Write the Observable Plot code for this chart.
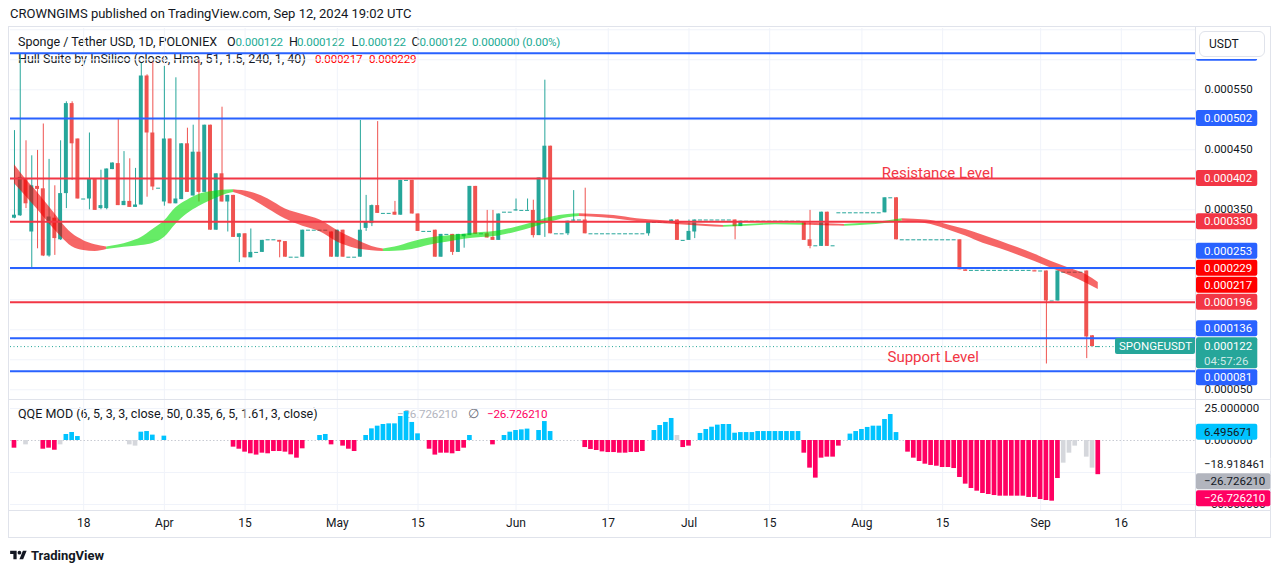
<!DOCTYPE html>
<html>
<head>
<meta charset="utf-8">
<script src="https://cdn.jsdelivr.net/npm/d3@7"></script>
<script src="https://cdn.jsdelivr.net/npm/@observablehq/plot@0.6"></script>
<style>
  html,body{margin:0;padding:0;background:#fff;}
  body{width:1281px;height:573px;position:relative;overflow:hidden;font-family:Roboto,"Noto Sans",sans-serif;color:#131722;}
  .abs{position:absolute;}
  .leg{position:absolute;white-space:nowrap;font-size:12.5px;line-height:16px;color:#131722;}
  .num{font-size:11.6px;letter-spacing:-0.15px;}
  .t{color:#22ab94;}
  .r{color:#ff0000;}
  .sep{position:absolute;background:#e0e3eb;}
</style>
</head>
<body>
<div class="abs" style="left:10px;top:6px;font-size:13px;line-height:16px;">CROWNGIMS published on TradingView.com, Sep 12, 2024 19:02 UTC</div>
<div class="abs" style="left:8px;top:26px;width:1261px;height:510px;border:1px solid #e0e3eb;"></div>
<div class="leg" style="left:18px;top:34px;">Sponge / Tether USD, 1D, POLONIEX</div>
<div class="leg" style="left:227px;top:34px;">O</div><div class="leg num t" style="left:235.5px;top:34px;">0.000122</div>
<div class="leg" style="left:289px;top:34px;">H</div><div class="leg num t" style="left:297px;top:34px;">0.000122</div>
<div class="leg" style="left:351.5px;top:34px;">L</div><div class="leg num t" style="left:358.5px;top:34px;">0.000122</div>
<div class="leg" style="left:411.5px;top:34px;">C</div><div class="leg num t" style="left:419.5px;top:34px;">0.000122</div>
<div class="leg num t" style="left:472px;top:34px;">0.000000 (0.00%)</div>
<div class="leg" style="left:18px;top:51px;">Hull Suite by InSilico (close, Hma, 51, 1.5, 240, 1, 40)</div>
<div class="leg num r" style="left:315px;top:51px;">0.000217</div>
<div class="leg num r" style="left:369px;top:51px;">0.000229</div>
<div class="leg" style="left:18px;top:406px;">QQE MOD (6, 5, 3, 3, close, 50, 0.35, 6, 5, 1.61, 3, close)</div>
<div class="leg num" style="left:397px;top:406px;color:#b2b5be;">−26.726210</div>
<div class="leg" style="left:468px;top:406px;color:#6a6d78;">∅</div>
<div class="leg num" style="left:487px;top:406px;color:#ff0062;">−26.726210</div>
<div id="price" class="abs" style="left:0;top:0;width:1281px;height:400px;"></div>
<div id="qqe" class="abs" style="left:0;top:400px;width:1281px;height:138px;"></div>
<div class="sep" style="left:1195px;top:26px;width:1px;height:512px;"></div>
<div class="sep" style="left:8px;top:399px;width:1263px;height:1px;"></div>
<div class="sep" style="left:8px;top:510px;width:1263px;height:1px;"></div>
<div class="abs" style="left:1196px;top:27px;width:74px;height:32px;background:#fff;"></div>
<div class="abs" style="left:1199px;top:31px;width:64px;height:24px;border:1px solid #e0e3eb;border-radius:6px;background:#fff;font-size:12px;line-height:24px;"><span style="margin-left:9px">USDT</span></div>
<div class="abs" style="left:10px;top:548px;height:14px;display:flex;align-items:center;font-size:13px;font-weight:700;color:#131722;">
  <svg width="17" height="13" viewBox="0 0 36 28"><path d="M14 22H7V11H0V4h14v18zM28 22h-8l7.5-18h8L28 22z" fill="#131722"/><circle cx="20" cy="8" r="4" fill="#131722"/></svg>
  <span style="margin-left:4px">TradingView</span>
</div>
<script>
// ================= DATA =================
const firstBarDay = "2024-03-06";
const axisEndDay = "2024-09-29";            // exclusive end of the time axis (future space)
const missingDays = ["2024-07-24", "2024-09-07"];
const timeTickDays = ["2024-03-18","2024-04-01","2024-04-15","2024-05-01","2024-05-15","2024-06-01","2024-06-17","2024-07-01","2024-07-15","2024-08-01","2024-08-15","2024-09-01","2024-09-16"];
const timeTickLabels = ["18","Apr","15","May","15","Jun","17","Jul","15","Aug","15","Sep","16"];

// daily candles [open, high, low, close] SPONGE/USDT
const ohlc = [
[336e-6,482e-6,335e-6,341e-6],[340e-6,610e-6,339e-6,404e-6],[402e-6,465e-6,352e-6,360e-6],[313e-6,440e-6,253e-6,390e-6],[389e-6,449e-6,285e-6,384e-6],
[385e-6,493e-6,272e-6,273e-6],[273e-6,434e-6,271e-6,338e-6],[336e-6,390e-6,274e-6,302e-6],[300e-6,465e-6,299e-6,377e-6],[377e-6,530e-6,352e-6,527e-6],
[527e-6,530e-6,399e-6,460e-6],[468e-6,468e-6,368e-6,368e-6],[368e-6,368e-6,368e-6,368e-6],[368e-6,478e-6,350e-6,402e-6],[402e-6,402e-6,349e-6,349e-6],
[352e-6,416e-6,350e-6,357e-6],[352e-6,418e-6,350e-6,418e-6],[417e-6,428e-6,417e-6,428e-6],[427e-6,502e-6,357e-6,357e-6],[357e-6,447e-6,357e-6,364e-6],
[364e-6,435e-6,354e-6,354e-6],[354e-6,419e-6,354e-6,358e-6],[358e-6,594e-6,358e-6,573e-6],[573e-6,575e-6,371e-6,478e-6],[478e-6,596e-6,382e-6,388e-6],
[386e-6,386e-6,386e-6,386e-6],[363e-6,589e-6,356e-6,468e-6],[468e-6,468e-6,360e-6,360e-6],[360e-6,570e-6,360e-6,368e-6],[367e-6,460e-6,367e-6,460e-6],
[460e-6,486e-6,379e-6,379e-6],[373e-6,491e-6,373e-6,446e-6],[446e-6,600e-6,363e-6,379e-6],[379e-6,491e-6,379e-6,491e-6],[491e-6,491e-6,316e-6,316e-6],
[316e-6,410e-6,316e-6,410e-6],[410e-6,521e-6,363e-6,363e-6],[363e-6,374e-6,313e-6,374e-6],[374e-6,374e-6,304e-6,304e-6],[304e-6,310e-6,262e-6,310e-6],
[310e-6,310e-6,270e-6,270e-6],[270e-6,318e-6,270e-6,279e-6],[279e-6,279e-6,279e-6,279e-6],[279e-6,299e-6,279e-6,299e-6],[300e-6,300e-6,300e-6,300e-6],
[300e-6,300e-6,300e-6,300e-6],[299e-6,299e-6,270e-6,296e-6],[297e-6,297e-6,271e-6,271e-6],[271e-6,271e-6,271e-6,271e-6],[271e-6,271e-6,271e-6,271e-6],
[271e-6,316e-6,271e-6,316e-6],[316e-6,316e-6,316e-6,316e-6],[316e-6,316e-6,316e-6,316e-6],[316e-6,316e-6,316e-6,316e-6],[316e-6,316e-6,316e-6,316e-6],
[313e-6,313e-6,271e-6,271e-6],[271e-6,316e-6,271e-6,316e-6],[316e-6,316e-6,271e-6,271e-6],[271e-6,271e-6,271e-6,271e-6],[271e-6,271e-6,271e-6,271e-6],
[271e-6,499e-6,271e-6,316e-6],[319e-6,374e-6,314e-6,329e-6],[327e-6,358e-6,322e-6,357e-6],[357e-6,497e-6,344e-6,344e-6],[344e-6,344e-6,344e-6,344e-6],
[344e-6,344e-6,344e-6,344e-6],[346e-6,364e-6,341e-6,341e-6],[341e-6,399e-6,341e-6,399e-6],[399e-6,399e-6,399e-6,399e-6],[399e-6,399e-6,343e-6,343e-6],
[343e-6,343e-6,314e-6,314e-6],[314e-6,314e-6,314e-6,314e-6],[314e-6,314e-6,314e-6,314e-6],[316e-6,316e-6,271e-6,271e-6],[271e-6,309e-6,271e-6,309e-6],
[309e-6,309e-6,309e-6,309e-6],[309e-6,309e-6,274e-6,279e-6],[279e-6,309e-6,279e-6,309e-6],[305e-6,309e-6,286e-6,309e-6],[307e-6,389e-6,307e-6,389e-6],
[389e-6,389e-6,309e-6,309e-6],[310e-6,310e-6,310e-6,310e-6],[310e-6,349e-6,303e-6,303e-6],[304e-6,349e-6,299e-6,299e-6],[299e-6,343e-6,299e-6,343e-6],
[346e-6,346e-6,346e-6,346e-6],[346e-6,346e-6,346e-6,346e-6],[348e-6,368e-6,348e-6,350e-6],[349e-6,349e-6,349e-6,349e-6],[349e-6,368e-6,349e-6,349e-6],
[349e-6,366e-6,303e-6,307e-6],[307e-6,403e-6,307e-6,403e-6],[402e-6,566e-6,304e-6,456e-6],[456e-6,456e-6,310e-6,310e-6],[310e-6,310e-6,310e-6,310e-6],
[310e-6,310e-6,310e-6,310e-6],[310e-6,331e-6,307e-6,331e-6],[331e-6,382e-6,331e-6,333e-6],[333e-6,333e-6,333e-6,333e-6],[333e-6,386e-6,310e-6,310e-6],
[310e-6,310e-6,310e-6,310e-6],[310e-6,310e-6,310e-6,310e-6],[310e-6,310e-6,310e-6,310e-6],[310e-6,310e-6,310e-6,310e-6],[310e-6,310e-6,310e-6,310e-6],
[310e-6,310e-6,310e-6,310e-6],[310e-6,310e-6,310e-6,310e-6],[310e-6,310e-6,310e-6,310e-6],[310e-6,310e-6,310e-6,310e-6],[310e-6,310e-6,310e-6,310e-6],
[310e-6,329e-6,306e-6,329e-6],[329e-6,329e-6,329e-6,329e-6],[329e-6,329e-6,329e-6,329e-6],[329e-6,329e-6,329e-6,329e-6],[328e-6,333e-6,328e-6,333e-6],
[333e-6,333e-6,299e-6,299e-6],[299e-6,299e-6,299e-6,299e-6],[299e-6,333e-6,299e-6,314e-6],[313e-6,333e-6,302e-6,333e-6],[333e-6,333e-6,333e-6,333e-6],
[333e-6,333e-6,333e-6,333e-6],[333e-6,333e-6,333e-6,333e-6],[333e-6,333e-6,333e-6,333e-6],[333e-6,333e-6,333e-6,333e-6],[333e-6,333e-6,333e-6,333e-6],
[333e-6,333e-6,300e-6,322e-6],[322e-6,331e-6,322e-6,331e-6],[331e-6,331e-6,331e-6,331e-6],[331e-6,331e-6,331e-6,331e-6],[331e-6,331e-6,331e-6,331e-6],
[331e-6,331e-6,331e-6,331e-6],[331e-6,331e-6,331e-6,331e-6],[331e-6,331e-6,331e-6,331e-6],[331e-6,331e-6,331e-6,331e-6],[331e-6,331e-6,331e-6,331e-6],
[331e-6,331e-6,331e-6,331e-6],[331e-6,331e-6,331e-6,331e-6],[329e-6,329e-6,299e-6,299e-6],[300e-6,349e-6,285e-6,289e-6],[290e-6,290e-6,290e-6,290e-6],
[289e-6,346e-6,289e-6,346e-6],[346e-6,346e-6,289e-6,289e-6],[290e-6,290e-6,290e-6,290e-6],[345e-6,345e-6,345e-6,345e-6],[345e-6,345e-6,345e-6,345e-6],
[345e-6,345e-6,345e-6,345e-6],[345e-6,345e-6,345e-6,345e-6],[345e-6,345e-6,345e-6,345e-6],[345e-6,345e-6,345e-6,345e-6],[345e-6,345e-6,345e-6,345e-6],
[345e-6,345e-6,345e-6,345e-6],[345e-6,370e-6,345e-6,370e-6],[370e-6,370e-6,370e-6,370e-6],[370e-6,370e-6,300e-6,300e-6],[300e-6,300e-6,300e-6,300e-6],
[300e-6,300e-6,300e-6,300e-6],[300e-6,300e-6,300e-6,300e-6],[300e-6,300e-6,300e-6,300e-6],[300e-6,300e-6,300e-6,300e-6],[300e-6,300e-6,300e-6,300e-6],
[300e-6,300e-6,300e-6,300e-6],[300e-6,300e-6,300e-6,300e-6],[300e-6,300e-6,300e-6,300e-6],[300e-6,300e-6,300e-6,300e-6],[300e-6,300e-6,250e-6,250e-6],
[250e-6,250e-6,249e-6,249e-6],[249e-6,249e-6,249e-6,249e-6],[249e-6,249e-6,249e-6,249e-6],[249e-6,249e-6,249e-6,249e-6],[249e-6,249e-6,249e-6,249e-6],
[249e-6,249e-6,249e-6,249e-6],[249e-6,249e-6,249e-6,249e-6],[249e-6,249e-6,249e-6,249e-6],[249e-6,249e-6,249e-6,249e-6],[249e-6,249e-6,249e-6,249e-6],
[249e-6,249e-6,249e-6,249e-6],[249e-6,249e-6,249e-6,249e-6],[249e-6,249e-6,248e-6,248e-6],[248e-6,248e-6,248e-6,248e-6],[248e-6,248e-6,93e-6,198e-6],
[198e-6,198e-6,198e-6,198e-6],[198e-6,248e-6,198e-6,248e-6],[246e-6,246e-6,246e-6,246e-6],[246e-6,246e-6,246e-6,246e-6],[246e-6,246e-6,246e-6,246e-6],
[246e-6,246e-6,246e-6,246e-6],[248e-6,248e-6,102e-6,138e-6],[140e-6,140e-6,122e-6,122e-6],[122e-6,122e-6,122e-6,122e-6]
];

// Hull Suite band, sampled at bar numbers
const hullBar = [0,2,4,6,8,10,12,14,16, 18,20,22,24,26,28,30,32,34,36,38, 41,44,47,50,53,56,59,62,64, 66,69,72,75,78,81,84,87,90,93,96,98, 100,104,108,112,116,120,123, 127,132,137, 139,142,144, 148,151,154, 156,159,162,165,168,171,174,177,180,183,186,188];
const hullUpper = [425e-6,400.5e-6,379e-6,355.3e-6,331.1e-6,310.3e-6,298.6e-6,291.8e-6,287.9e-6,
 291.3e-6,296.5e-6,304e-6,317.1e-6,331.3e-6,353.5e-6,366e-6,375.5e-6,380e-6,382.6e-6,383.5e-6,
 379.3e-6,368.1e-6,351.3e-6,342.1e-6,332.8e-6,315.6e-6,301.3e-6,289e-6,284.8e-6,
 287.8e-6,296.3e-6,303.1e-6,306.5e-6,309.3e-6,312e-6,314.8e-6,321e-6,329e-6,337.6e-6,342.1e-6,343.3e-6,
 342.5e-6,340.5e-6,335.1e-6,332e-6,328.6e-6,325.6e-6,323.8e-6,
 325.5e-6,327.6e-6,327.6e-6, 327.3e-6,326.3e-6,325.5e-6, 328e-6,331.1e-6,335e-6,
 334.3e-6,332e-6,324.8e-6,317.3e-6,307.5e-6,297.6e-6,287e-6,276e-6,263.3e-6,252.6e-6,241.5e-6,229e-6];
const hullLower = [393.3e-6,372.1e-6,350.3e-6,327.1e-6,306e-6,288.5e-6,282.1e-6,280.5e-6,283.8e-6,
 286.3e-6,288.3e-6,290.5e-6,294e-6,303.8e-6,326e-6,343.5e-6,355.6e-6,365e-6,373.6e-6,378.8e-6,
 368.3e-6,351.3e-6,334.6e-6,322.6e-6,313.5e-6,296.4e-6,286e-6,281.8e-6,280.5e-6,
 280.8e-6,284e-6,291.1e-6,295.8e-6,301.1e-6,303.8e-6,306.5e-6,312.6e-6,320.6e-6,329.3e-6,336.6e-6,338.8e-6,
 337.8e-6,335e-6,330.3e-6,327.1e-6,324.5e-6,322.3e-6,321e-6,
 322.7e-6,325e-6,324.1e-6, 323.8e-6,323e-6,322.7e-6, 324.6e-6,327.3e-6,331e-6,
 329.6e-6,325.3e-6,316.3e-6,306.3e-6,294.3e-6,285e-6,274.6e-6,263.8e-6,252.3e-6,240.3e-6,227.1e-6,217e-6];
// trend from each sample onward: u = rising (green), d = falling (red)
const hullTrend = ("dddddddd" + "uuuuuuuuuuu" + "ddddddddd" + "uuuuuuuuuuuu" + "ddddddd" + "uuu" + "ddd" + "uuu" + "ddddddddddddd").split("");

// horizontal drawings
const levelPrices = [611e-6, 502e-6, 402e-6, 330e-6, 253e-6, 196e-6, 136e-6, 81e-6];
const levelGroup  = ["range","range","pivot","pivot","range","pivot","range","range"];
const noteTexts  = ["Resistance Level", "Support Level"];
const noteDays   = ["2024-08-04", "2024-08-05"];
const notePrices = [411e-6, 105e-6];

// QQE MOD histogram (null = no visible bar), state: u above, d below, n neutral
const qqeHist = [
-6.0,null,-3.4,null,null,-6.8,-6.0,-7.6,-3.4,4.7,
6.25,3.1,null,null,null,null,null,null,null,null,
-3.4,-4.4,6.5,7.0,4.2,null,3.4,null,null,null,
null,null,null,null,null,null,null,null,-5.2,-6.8,
-9.1,-10.4,-11.4,-9.9,-10.4,-8.6,-8.6,-9.1,-11.2,-13.8,
-6.5,null,null,3.9,4.7,-3.4,null,-4.4,-6.8,-8.6,
null,3.9,9.1,11.2,12.5,13.0,13.0,18.75,22.6,14.1,
5.2,null,-6.8,-11.4,-9.9,-9.9,-10.4,-8.6,-6.0,3.9,
null,null,null,-3.4,null,3.9,6.5,7.8,8.3,8.9,
null,7.8,14.8,7.0,null,null,null,null,null,-5.5,
-7.0,-7.8,-8.9,-9.4,-9.4,-9.9,-9.9,-9.4,-9.4,-8.6,
null,7.8,11.7,14.1,17.2,3.9,-5.5,-4.4,null,5.5,
8.6,10.4,12.0,12.5,12.5,5.7,6.2,6.2,6.2,7.0,
7.0,7.0,7.0,7.0,7.0,7.0,7.0,-9.9,-21.6,-29.4,
-13.8,-13.0,-13.0,-4.4,null,5.0,7.0,8.6,10.2,11.2,
11.2,16.4,20.3,6.2,null,-9.1,-13.8,-16.4,-18.5,-19.5,
-20.1,-21.1,-21.1,-21.9,-28.9,-34.1,-37.5,-39.6,-41.4,-42.2,
-43.0,-43.5,-43.5,-43.5,-43.5,-43.5,-44.5,-44.5,-46.1,-46.9,
-47.4,-29.7,-17.7,-9.9,-4.4,null,-13.0,-21.6,-26.7
];
const qqeState = ("d.n..dddnu" + "uu........" + "nnuuu.u..." + "........dd" + "dddddddddd" +
  "d..uud.ddd" + ".uuuuuuuuu" + "u.dddddddu" + "...d.uuuuu" + ".uuu.....d" +
  "dddddddddd" + ".uuuundd.u" + "uuuuuuuuuu" + "uuuuuuuddd" + "dddd.uuuuu" +
  "uuuu.ddddd" + "dddddddddd" + "dddddddddd" + "ddnnn.nnd").split("");
const qqeReadouts = [6.495671, -18.918461, -26.726210, -26.726210];

const priceAxisTicks = [0.00005, 0.00035, 0.00045, 0.00055];
const priceGridTicks = [0.00005,0.0001,0.00015,0.0002,0.00025,0.0003,0.00035,0.0004,0.00045,0.0005,0.00055,0.0006,0.00065];
const qqeAxisTicks = [25, 0, -50];
const qqeGridTicks = [25, -25, -50];
const countdown = "04:57:26";
const symbolTag = "SPONGEUSDT";

// ================= BUILD =================
const fmtDay = d3.utcFormat("%Y-%m-%d");
const allDays = d3.utcDay.range(new Date(firstBarDay + "T00:00Z"), new Date(axisEndDay + "T00:00Z"))
  .map(fmtDay).filter(d => !missingDays.includes(d));
const barDays = allDays.slice(0, ohlc.length);
const candles = ohlc.map(([o, h, l, c], i) => ({date: barDays[i], o, h, l, c, up: c >= o}));
const flatCandles = candles.filter(d => Math.abs(d.o - d.c) < 1.5e-6);
const lastClose = candles[candles.length - 1].c;

const hullPts = [];
let seg = 0;
hullBar.forEach((b, k) => {
  const t = hullTrend[k];
  if (k > 0 && t !== hullTrend[k - 1]) {
    hullPts.push({date: barDays[b], hi: hullUpper[k], lo: hullLower[k], seg, trend: hullTrend[k - 1]});
    seg++;
  }
  hullPts.push({date: barDays[b], hi: hullUpper[k], lo: hullLower[k], seg, trend: t});
});

const qqeBars = barDays.map((d, i) => ({date: d, v: qqeHist[i], s: qqeState[i]})).filter(d => d.v != null);

const TEAL = "#26a69a", RED = "#ef5350", BLUE = "#2962ff", LRED = "#f23645";
const GRID = "#f0f3fa";
const FONT = "Roboto, 'Noto Sans', sans-serif";
const W = 1281, ML = 11.1, MR = 88.1;
const xOpt = {type: "band", domain: allDays, padding: 0, axis: null};
const fmtP = d3.format(".6f");
const fmtQ = v => (v < 0 ? "−" : "") + Math.abs(v).toFixed(6);
const candleColor = d => d.up ? TEAL : RED;

const pricePlot = Plot.plot({
  width: W, height: 400, marginLeft: ML, marginRight: MR, marginTop: 28, marginBottom: 1,
  x: xOpt,
  y: {domain: [0.00003383, 0.00065217], axis: null},
  style: {background: "transparent", fontFamily: FONT, overflow: "visible"},
  marks: [
    Plot.ruleY(priceGridTicks, {stroke: GRID, insetLeft: -1.1, insetRight: -2.1}),
    Plot.ruleX(timeTickDays, {x: d => d, stroke: GRID}),
    Plot.ruleX(candles, {x: "date", y1: "l", y2: "h", stroke: candleColor, strokeWidth: 1}),
    Plot.barY(candles, {x: "date", y1: "o", y2: "c", fill: candleColor, insetLeft: 0.9, insetRight: 0.9}),
    Plot.tickY(flatCandles, {x: "date", y: "c", stroke: candleColor, insetLeft: 0.9, insetRight: 0.9}),
    Plot.areaY(hullPts, {x: "date", y1: "lo", y2: "hi", z: "seg",
      fill: d => d.trend === "u" ? "#00e000" : "#f00000", fillOpacity: 0.6, curve: "monotone-x"}),
    Plot.ruleY(levelPrices, {y: d => d, stroke: (d, i) => levelGroup[i] === "range" ? BLUE : LRED,
      strokeWidth: 2, insetLeft: -1.1, insetRight: -2.1}),
    Plot.ruleY([lastClose], {stroke: TEAL, strokeDasharray: "1,2.5", insetLeft: -1.1}),
    Plot.text(noteTexts, {x: (d, i) => noteDays[i], y: (d, i) => notePrices[i], text: d => d,
      textAnchor: "start", lineAnchor: "middle", dx: 2.5, fill: LRED, fontSize: 15}),
    Plot.text(priceAxisTicks, {y: d => d, text: d => fmtP(d), frameAnchor: "right", dx: 11,
      textAnchor: "start", fill: "#131722", fontSize: 11.5})
  ]
});
document.getElementById("price").appendChild(pricePlot);

const qqeColor = {u: "#00c3ff", d: "#ff0062", n: "#d5d7dc"};
const qqePlot = Plot.plot({
  width: W, height: 138, marginLeft: ML, marginRight: MR, marginTop: 0, marginBottom: 28,
  x: xOpt,
  y: {domain: [-54.69, 31.25], axis: null},
  style: {background: "transparent", fontFamily: FONT, overflow: "visible"},
  marks: [
    Plot.ruleY(qqeGridTicks, {stroke: GRID, insetLeft: -1.1, insetRight: -2.1}),
    Plot.ruleX(timeTickDays, {x: d => d, stroke: GRID}),
    Plot.ruleY([0], {stroke: "#c8cbd3", strokeDasharray: "1.5,2", insetLeft: -1.1, insetRight: -2.1}),
    Plot.barY(qqeBars, {x: "date", y: "v", fill: d => qqeColor[d.s], insetLeft: 0.55, insetRight: 0.55}),
    Plot.text(qqeAxisTicks, {y: d => d, text: d => fmtQ(d), frameAnchor: "right", dx: 11,
      textAnchor: "start", fill: "#131722", fontSize: 11.5}),
    Plot.text(timeTickDays, {x: d => d, text: (d, i) => timeTickLabels[i], frameAnchor: "bottom",
      dy: 13, lineAnchor: "middle", fill: "#131722", fontSize: 12})
  ]
});
document.getElementById("qqe").appendChild(qqePlot);

// ---- price-scale labels with collision stacking ----
function drawLabels(svg, yScale, labels) {
  const placed = [];
  for (const L of labels) {
    const yc = yScale.apply(L.value);
    const h = L.sub ? 31 : 16;
    const off = L.sub ? 8.8 : 8;
    let top = yc - off, dir = 0;
    for (let g = 0; g < 40; g++) {
      const hit = placed.find(p => top < p.top + p.h && top + h > p.top);
      if (!hit) break;
      if (!dir) dir = yc < hit.yc ? -1 : 1;
      top = dir < 0 ? hit.top - h - 1 : hit.top + hit.h + 1;
    }
    placed.push({...L, yc, top, h, off});
  }
  const g = d3.select(svg).append("g").attr("font-family", FONT).attr("font-size", 11.5)
    .attr("text-anchor", "start");
  for (const p of placed) {
    const cy = p.top + p.off;
    const rect = g.append("rect").attr("x", 1196).attr("y", p.top).attr("height", p.h)
      .attr("rx", 2).attr("fill", p.bg || "none");
    const txt = g.append("text").attr("x", 1204).attr("y", cy).attr("dy", "0.35em").attr("fill", p.fg).text(p.text);
    const len = txt.node().getComputedTextLength();
    rect.attr("width", Math.max(59, 8 + len + 5));
    if (p.sub) g.append("text").attr("x", 1204).attr("y", cy + 15).attr("dy", "0.35em")
      .attr("fill", p.fg).attr("fill-opacity", 0.78).text(p.sub);
    if (p.tag) {
      g.append("rect").attr("x", 1115).attr("y", cy - 8).attr("width", 80).attr("height", 16).attr("rx", 2).attr("fill", p.bg);
      g.append("text").attr("x", 1119).attr("y", cy).attr("dy", "0.35em").attr("fill", "#fff").text(p.tag);
    }
  }
}

const lvl = (v, grp) => ({value: v, text: fmtP(v), bg: grp === "range" ? BLUE : LRED, fg: "#fff"});
const levelLabel = v => lvl(v, levelGroup[levelPrices.indexOf(v)]);
const hullA = hullLower[hullLower.length - 1], hullB = hullUpper[hullUpper.length - 1];
drawLabels(pricePlot, pricePlot.scale("y"), [
  {value: lastClose, text: fmtP(lastClose), sub: countdown, tag: symbolTag, bg: TEAL, fg: "#fff"},
  levelLabel(81e-6), levelLabel(136e-6), levelLabel(196e-6),
  {value: hullA, text: fmtP(hullA), bg: "#ff0000", fg: "#fff"},
  {value: hullB, text: fmtP(hullB), bg: "#ff0000", fg: "#fff"},
  levelLabel(253e-6), levelLabel(330e-6), levelLabel(402e-6), levelLabel(502e-6), levelLabel(611e-6)
]);
drawLabels(qqePlot, qqePlot.scale("y"), [
  {value: qqeReadouts[1], text: fmtQ(qqeReadouts[1]), bg: "#ffffff", fg: "#131722"},
  {value: qqeReadouts[2], text: fmtQ(qqeReadouts[2]), bg: "#b2b5be", fg: "#131722"},
  {value: qqeReadouts[3], text: fmtQ(qqeReadouts[3]), bg: "#ff0062", fg: "#fff"},
  {value: qqeReadouts[0], text: fmtQ(qqeReadouts[0]), bg: "#00c3ff", fg: "#131722"}
]);
</script>
</body>
</html>
